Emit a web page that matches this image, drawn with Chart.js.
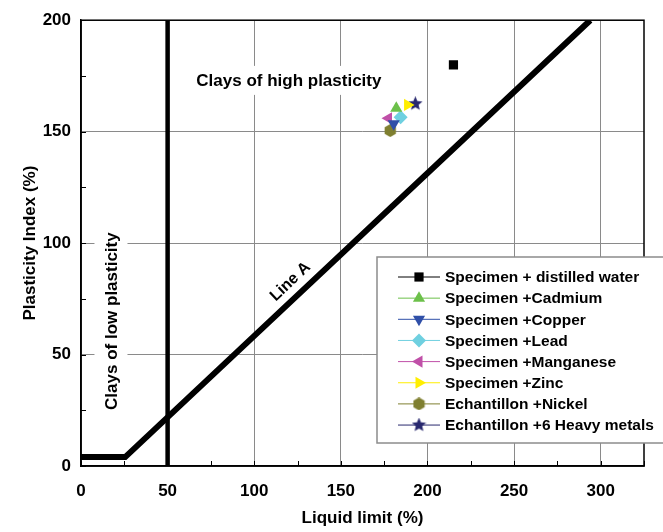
<!DOCTYPE html>
<html>
<head>
<meta charset="utf-8">
<script src="https://cdn.jsdelivr.net/npm/chart.js@4.4.1/dist/chart.umd.min.js"></script>
<style>
  html, body { margin: 0; padding: 0; background: #fff; }
  #wrap { width: 663px; height: 532px; }
</style>
</head>
<body>
<div id="wrap"><canvas id="chart"></canvas></div>
<script>
// ---- data ----
const seriesNames = [
  'Specimen + distilled water',
  'Specimen +Cadmium',
  'Specimen +Copper',
  'Specimen +Lead',
  'Specimen +Manganese',
  'Specimen +Zinc',
  'Echantillon +Nickel',
  'Echantillon +6 Heavy metals'
];
const liquidLimit     = [215, 182, 180.5, 184.5, 177.5, 188.5, 178.5, 193];
const plasticityIndex = [180, 160.5, 153.5, 156.5, 156, 162, 150.5, 162.5];

// Line A (U-shaped start at PI = 4) and the LL = 50 boundary
const lineALL = [0, 25.5, 294];
const lineAPI = [4, 4, 200];
const boundaryLL = [50, 50];
const boundaryPI = [0, 200];

const xTicks = [0, 50, 100, 150, 200, 250, 300];
const yTicks = [0, 50, 100, 150, 200];
const minorStep = 25;

// ---- styles ----
const seriesColors = ['#000000', '#6cc04a', '#2f4fa8', '#6fd0e0', '#c050a8', '#ffee00', '#7f7f30', '#28286e'];
const FONT = '"Liberation Sans", Arial, sans-serif';

// 星形・六角形マーカー用の小さなキャンバス
function polyMarker(color, size, n, inner) {
  const c = document.createElement('canvas');
  c.width = c.height = size;
  const g = c.getContext('2d');
  const R = size / 2;
  g.fillStyle = color;
  g.beginPath();
  for (let k = 0; k < n; k++) {
    const a = -Math.PI / 2 + k * Math.PI * 2 / n;
    const r = inner && k % 2 ? R * inner : R;
    const px = R + r * Math.cos(a), py = R + r * Math.sin(a);
    k ? g.lineTo(px, py) : g.moveTo(px, py);
  }
  g.closePath();
  g.fill();
  return c;
}

const markerStyles = [
  'rect', 'triangle', 'triangle', 'rectRot', 'triangle', 'triangle',
  polyMarker(seriesColors[6], 13, 6, 0),
  polyMarker(seriesColors[7], 15, 10, 0.45)
];
const markerRotation = [0, 0, 180, 0, 270, 90, 0, 0];

const datasets = seriesNames.map((name, i) => ({
  label: name,
  data: [{ x: liquidLimit[i], y: plasticityIndex[i] }],
  pointStyle: markerStyles[i],
  rotation: markerRotation[i],
  pointRadius: i === 0 ? 6.5 : 7,
  backgroundColor: seriesColors[i],
  borderColor: seriesColors[i],
  borderWidth: 0,
  showLine: false
}));

datasets.push({
  label: 'Line A',
  data: lineALL.map((x, i) => ({ x, y: lineAPI[i] })),
  showLine: true, borderColor: '#000', borderWidth: 6, pointRadius: 0,
  borderCapStyle: 'butt', borderJoinStyle: 'miter', tension: 0
});
datasets.push({
  label: 'LL50',
  data: boundaryLL.map((x, i) => ({ x, y: boundaryPI[i] })),
  showLine: true, borderColor: '#000', borderWidth: 4.5, pointRadius: 0,
  borderCapStyle: 'butt', tension: 0
});

// ---- plugins ----
const framePlugin = {
  id: 'frame',
  afterDatasetsDraw(chart) {
    const { ctx, chartArea: a, scales: { x, y } } = chart;
    ctx.save();
    // inward minor ticks
    ctx.strokeStyle = '#000';
    ctx.lineWidth = 1;
    ctx.beginPath();
    for (let v = 0; v <= x.max; v += minorStep) {
      const px = Math.round(x.getPixelForValue(v)) + 0.5;
      ctx.moveTo(px, a.bottom); ctx.lineTo(px, a.bottom - 5);
    }
    for (let v = 0; v <= y.max; v += minorStep) {
      const py = Math.round(y.getPixelForValue(v)) + 0.5;
      ctx.moveTo(a.left, py); ctx.lineTo(a.left + 5, py);
    }
    ctx.stroke();
    ctx.lineWidth = 1.5;
    ctx.strokeRect(a.left, a.top, a.right - a.left, a.bottom - a.top);
    ctx.restore();
  }
};

const notesPlugin = {
  id: 'notes',
  afterDatasetsDraw(chart) {
    const { ctx, scales: { x, y } } = chart;
    const boxed = (text, vx, vy, rot, size, padX, padY) => {
      ctx.save();
      ctx.translate(x.getPixelForValue(vx), y.getPixelForValue(vy));
      ctx.rotate(rot);
      ctx.font = 'bold ' + size + 'px ' + FONT;
      const w = ctx.measureText(text).width;
      ctx.fillStyle = '#fff';
      ctx.fillRect(-w / 2 - padX, -size / 2 - padY, w + 2 * padX, size + 2 * padY);
      ctx.fillStyle = '#000';
      ctx.textAlign = 'center';
      ctx.textBaseline = 'middle';
      ctx.fillText(text, 0, 1);
      ctx.restore();
    };
    boxed('Clays of high plasticity', 120, 173, 0, 17, 6, 6);
    boxed('Clays of low plasticity', 17.3, 65, -Math.PI / 2, 17, 6, 8);
    // Line A label follows the slope of the line
    const dx = x.getPixelForValue(lineALL[2]) - x.getPixelForValue(lineALL[1]);
    const dy = y.getPixelForValue(lineAPI[2]) - y.getPixelForValue(lineAPI[1]);
    boxed('Line A', 120.5, 83, Math.atan2(dy, dx), 16, 1, 0);
  }
};

const legendPlugin = {
  id: 'boxLegend',
  afterDraw(chart) {
    const { ctx } = chart;
    const left = 377, top = 257, bottom = 443, right = 670;
    const rowTop = 277, rowGap = 21.15;
    ctx.save();
    ctx.fillStyle = '#fff';
    ctx.fillRect(left, top, right - left, bottom - top);
    ctx.strokeStyle = '#8c8c8c';
    ctx.lineWidth = 1.5;
    ctx.strokeRect(left, top, right - left, bottom - top);
    ctx.font = 'bold 15.5px ' + FONT;
    ctx.textBaseline = 'middle';
    seriesNames.forEach((name, i) => {
      const ds = chart.data.datasets[i];
      const cy = rowTop + i * rowGap;
      ctx.strokeStyle = seriesColors[i];
      ctx.lineWidth = 1;
      ctx.beginPath();
      ctx.moveTo(398, cy); ctx.lineTo(440, cy);
      ctx.stroke();
      ctx.fillStyle = seriesColors[i];
      Chart.helpers.drawPoint(ctx, {
        pointStyle: ds.pointStyle, rotation: ds.rotation,
        radius: ds.pointRadius, borderWidth: 0
      }, 419, cy);
      ctx.fillStyle = '#000';
      ctx.fillText(name, 445, cy + 1);
    });
    ctx.restore();
  }
};

// ---- chart ----
const tickFont = { family: FONT, size: 17, weight: 'bold' };

new Chart(document.getElementById('chart'), {
  type: 'scatter',
  data: { datasets },
  options: {
    responsive: true,
    maintainAspectRatio: false,
    animation: false,
    layout: { padding: { top: 19, right: 19, left: 0, bottom: 0 } },
    plugins: { legend: { display: false }, tooltip: { enabled: false } },
    scales: {
      x: {
        type: 'linear', min: 0, max: 325,
        afterBuildTicks: s => { s.ticks = xTicks.map(v => ({ value: v })); },
        afterFit: s => { s.height = 66; },
        grid: { color: '#8a8a8a', lineWidth: 1, drawTicks: false },
        border: { color: '#000', width: 1.5 },
        ticks: { color: '#000', font: tickFont, padding: 15, maxRotation: 0 },
        title: { display: true, text: 'Liquid limit (%)', color: '#000', font: tickFont, padding: { top: 0, bottom: 3 } }
      },
      y: {
        type: 'linear', min: 0, max: 200,
        afterBuildTicks: s => { s.ticks = yTicks.map(v => ({ value: v })); },
        afterFit: s => { s.width = 81; },
        grid: { color: '#8a8a8a', lineWidth: 1, drawTicks: false },
        border: { color: '#000', width: 1.5 },
        ticks: { color: '#000', font: tickFont, padding: 10 },
        title: { display: true, text: 'Plasticity Index (%)', color: '#000', font: tickFont, padding: { top: 20, bottom: 0 } }
      }
    }
  },
  plugins: [framePlugin, notesPlugin, legendPlugin]
});
</script>
</body>
</html>
